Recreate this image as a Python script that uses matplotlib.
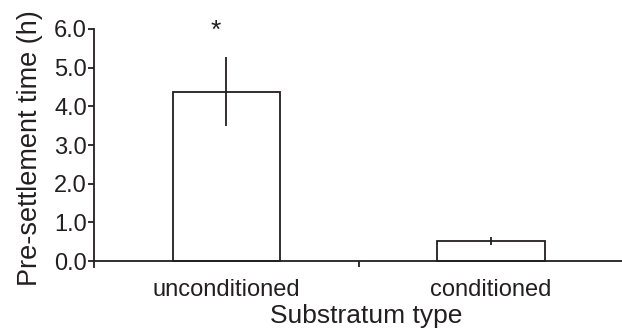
import matplotlib
matplotlib.use('Agg')
import matplotlib.pyplot as plt

categories = ['unconditioned', 'conditioned']
means = [4.37, 0.53]
err_low = [3.5, 0.41]
err_high = [5.27, 0.62]
yticks = [0, 1, 2, 3, 4, 5, 6]

plt.rcParams['font.family'] = ['Liberation Sans', 'DejaVu Sans']
ink = '#231f20'

fig = plt.figure(figsize=(6.22, 3.28), dpi=100)
ax = fig.add_axes([0.151, 0.186, 0.849, 0.726])

x = list(range(len(categories)))
ax.bar(x, means, width=0.405, color='white', edgecolor=ink, linewidth=1.3, zorder=2)
ax.vlines(x, err_low, err_high, color=ink, linewidth=1.3, zorder=3)

ax.text(-0.04, 5.95, '*', ha='center', va='center', fontsize=19, color=ink)

ax.set_xlim(-0.501, 1.495)
ax.set_ylim(-0.15, 6.0)
ax.spines['bottom'].set_position(('data', 0))
ax.spines['top'].set_visible(False)
ax.spines['right'].set_visible(False)
for s in ('left', 'bottom'):
    ax.spines[s].set_color(ink)
    ax.spines[s].set_linewidth(1.3)

ax.set_yticks(yticks)
ax.set_yticklabels(['%.1f' % v for v in yticks])
ax.set_xticks([0.5])
ax.set_xticklabels([''])
ax.tick_params(axis='y', direction='out', length=4, width=1.3, color=ink,
               labelsize=17, labelcolor=ink, pad=1)
ax.tick_params(axis='x', direction='out', length=4, width=1.3, color=ink)

for xi, name in zip(x, categories):
    ax.text(xi, -0.45, name, ha='center', va='top', fontsize=17, color=ink)

ax.set_ylabel('Pre-settlement time (h)', fontsize=19.5, color=ink, labelpad=8)
fig.text(0.588, 0.0, 'Substratum type', ha='center', va='bottom', fontsize=19, color=ink)

fig.savefig('out.png', dpi=100)
